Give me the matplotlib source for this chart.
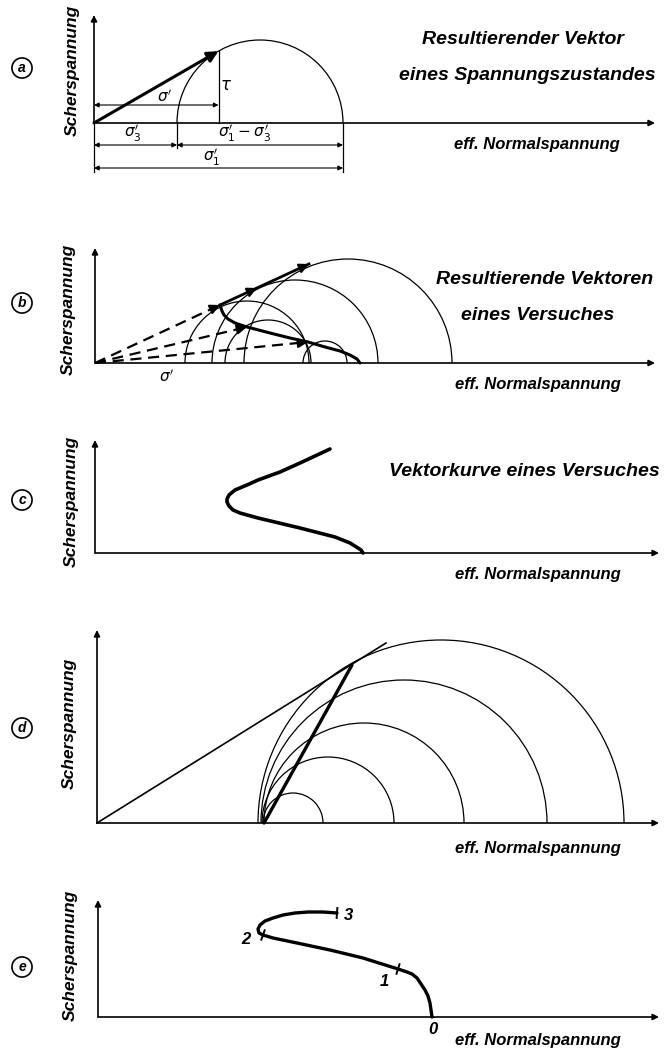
import numpy as np
import matplotlib.pyplot as plt
from matplotlib.patches import Arc

W, H = 670, 1048
FONT = ['Liberation Sans Narrow', 'Liberation Sans', 'DejaVu Sans']

# (a) one stress state: sigma3', sigma1' and the point on the Mohr circle
a_sigma3 = 83
a_sigma1 = 249
a_angle = 120

# (b) Mohr circles of one test and the resulting vectors
b_centers = [253, 200, 152, 173, 230]
b_radii = [104, 83, 62, 43, 22]
b_tips = [(125, 58), (152, 36), (213, 21)]
b_line = [(125, 58), (162, 75), (214, 99)]
b_curve_x = [265, 262, 255, 245, 230, 213, 195, 175, 152, 140, 133, 129, 127, 126, 125]
b_curve_y = [0, 4, 8, 12, 16, 21, 25, 30, 36, 40, 44, 48, 52, 55, 58]

# (c) vector curve of one test
c_curve_x = [268, 266, 263, 255, 240, 205, 163, 145, 138, 134, 132, 132, 134, 140, 152, 163, 185, 205, 235]
c_curve_y = [0, 3, 5, 10, 16, 25, 35, 40, 43, 47, 51, 54, 58, 63, 68, 73, 81, 90, 104]

# (d) circles through a common pole, envelope and pole line
d_centers = [196, 231, 267, 307, 344]
d_radii = [30, 66, 100, 143, 183]
d_envelope = [(0, 0), (289, 180)]
d_pole_line = [(167, 0), (255, 158)]

# (e) vector curve with stages 0..3
e_curve_x = [334, 333, 332, 330, 327, 323, 319, 314, 309, 300, 265, 232, 199, 175, 165,
             161, 160, 162, 167, 175, 185, 197, 210, 225, 239]
e_curve_y = [0, 7, 14, 21, 27, 33, 39, 43, 45, 48, 59, 67, 74, 79, 82,
             84, 88, 92, 96, 99, 102, 104, 105, 105, 104]
e_marks = [9, 14, 24]
e_labels = ['0', '1', '2', '3']

fig = plt.figure(figsize=(6.7, 10.48), dpi=100)


def panel(top, bottom, ox, oy):
    ax = fig.add_axes([0, 1 - bottom / H, 1, (bottom - top) / H])
    ax.set_xlim(-ox, W - ox)
    ax.set_ylim(oy - bottom, oy - top)
    ax.axis('off')
    return ax


def arrow(ax, p, q, lw=1.1, ms=9, style='-|>'):
    ax.annotate('', xy=q, xytext=p,
                arrowprops=dict(arrowstyle=style, lw=lw, color='k', mutation_scale=ms,
                                shrinkA=0, shrinkB=0))


def axes_arrows(ax, ytop, xend):
    arrow(ax, (0, 0), (0, ytop), lw=1.2)
    arrow(ax, (0, 0), (xend, 0), lw=1.2)


def head(ax, tip, lw=1.6, ms=14):
    t = np.array(tip, float)
    u = t / np.hypot(*t)
    arrow(ax, t - 10 * u, t, lw=lw, ms=ms)


def text(x, y, s, size, **kw):
    fig.text(x / W, 1 - y / H, s, family=FONT, weight='bold', style='italic',
             size=size, ha='center', va='center', **kw)


def side(letter, ly, sx, sy):
    text(sx, sy, 'Scherspannung', 12.5, rotation=90)
    fig.text(22 / W, 1 - ly / H, letter, family=FONT, weight='bold', style='italic',
             size=10, ha='center', va='center',
             bbox=dict(boxstyle='circle,pad=0.22', fc='white', ec='k', lw=1.2))


def circles(ax, centers, radii):
    for cx, rr in zip(centers, radii):
        ax.add_patch(Arc((cx, 0), 2 * rr, 2 * rr, theta1=0, theta2=180, lw=0.9))


def curve(ax, x, y, lw):
    ax.plot(x, y, color='k', lw=lw, solid_joinstyle='round', solid_capstyle='round')


# ---- (a)
ax = panel(0, 185, 94, 123)
axes_arrows(ax, 108, 561)
c = (a_sigma1 + a_sigma3) / 2
r = (a_sigma1 - a_sigma3) / 2
circles(ax, [c], [r])
tx = c + r * np.cos(np.radians(a_angle))
ty = r * np.sin(np.radians(a_angle))
arrow(ax, (0, 0), (tx, ty), lw=2.2, ms=16)
ax.plot([tx, tx], [0, ty], color='k', lw=0.9)
arrow(ax, (0, 18), (tx, 18), lw=0.8, ms=7, style='<|-|>')
ax.plot([0, 0], [0, -49], color='k', lw=0.9)
ax.plot([a_sigma3, a_sigma3], [0, -25], color='k', lw=0.9)
ax.plot([a_sigma1, a_sigma1], [0, -49], color='k', lw=0.9)
arrow(ax, (0, -22), (a_sigma3, -22), lw=0.8, ms=7, style='<|-|>')
arrow(ax, (a_sigma3, -22), (a_sigma1, -22), lw=0.8, ms=7, style='<|-|>')
arrow(ax, (0, -45), (a_sigma1, -45), lw=0.8, ms=7, style='<|-|>')
text(165, 97, r"$\sigma'$", 11)
text(226, 86, r"$\tau$", 12)
text(133, 133, r"$\sigma_3'$", 11)
text(245, 133, r"$\sigma_1' - \sigma_3'$", 11)
text(212, 157, r"$\sigma_1'$", 11)
text(523, 40, 'Resultierender Vektor', 14)
text(527, 75, 'eines Spannungszustandes', 14)
text(537, 145, 'eff. Normalspannung', 12)
side('a', 68, 72, 70)

# ---- (b)
ax = panel(185, 400, 95, 363)
axes_arrows(ax, 115, 560)
circles(ax, b_centers, b_radii)
for tip in b_tips:
    ax.plot([0, tip[0]], [0, tip[1]], color='k', lw=1.6, ls=(0, (5, 3)))
    head(ax, tip)
ax.plot([b_line[0][0], b_line[-1][0]], [b_line[0][1], b_line[-1][1]], color='k', lw=2.0)
for tip in b_line[1:]:
    head(ax, tip)
curve(ax, b_curve_x, b_curve_y, 2.2)
text(167, 377, r"$\sigma'$", 11)
text(545, 280, 'Resultierende Vektoren', 14)
text(538, 315, 'eines Versuches', 14)
text(538, 385, 'eff. Normalspannung', 12)
side('b', 303, 68, 309)

# ---- (c)
ax = panel(400, 590, 95, 553)
axes_arrows(ax, 113, 564)
curve(ax, c_curve_x, c_curve_y, 2.6)
text(524, 472, 'Vektorkurve eines Versuches', 14)
text(538, 575, 'eff. Normalspannung', 12)
side('c', 500, 71, 501)

# ---- (d)
ax = panel(590, 860, 97, 823)
axes_arrows(ax, 193, 562)
circles(ax, d_centers, d_radii)
ax.plot(*zip(*d_envelope), color='k', lw=1.2)
ax.plot(*zip(*d_pole_line), color='k', lw=2.4, solid_capstyle='round')
text(538, 848, 'eff. Normalspannung', 12)
side('d', 728, 69, 723)

# ---- (e)
ax = panel(860, 1048, 98, 1017)
axes_arrows(ax, 117, 561)
ex = np.array(e_curve_x, float)
ey = np.array(e_curve_y, float)
curve(ax, ex, ey, 2.4)
for i in e_marks:
    j0, j1 = max(i - 1, 0), min(i + 1, len(ex) - 1)
    d = np.array([ex[j1] - ex[j0], ey[j1] - ey[j0]])
    n = np.array([-d[1], d[0]]) / np.hypot(*d)
    ax.plot([ex[i] - 5 * n[0], ex[i] + 5 * n[0]], [ey[i] - 5 * n[1], ey[i] + 5 * n[1]],
            color='k', lw=1.4)
for lab, (x, y) in zip(e_labels, [(433, 1030), (384, 982), (246, 939), (348, 916)]):
    text(x, y, lab, 12)
text(538, 1041, 'eff. Normalspannung', 12)
side('e', 967, 70, 955)

fig.savefig('out.png', dpi=100)
